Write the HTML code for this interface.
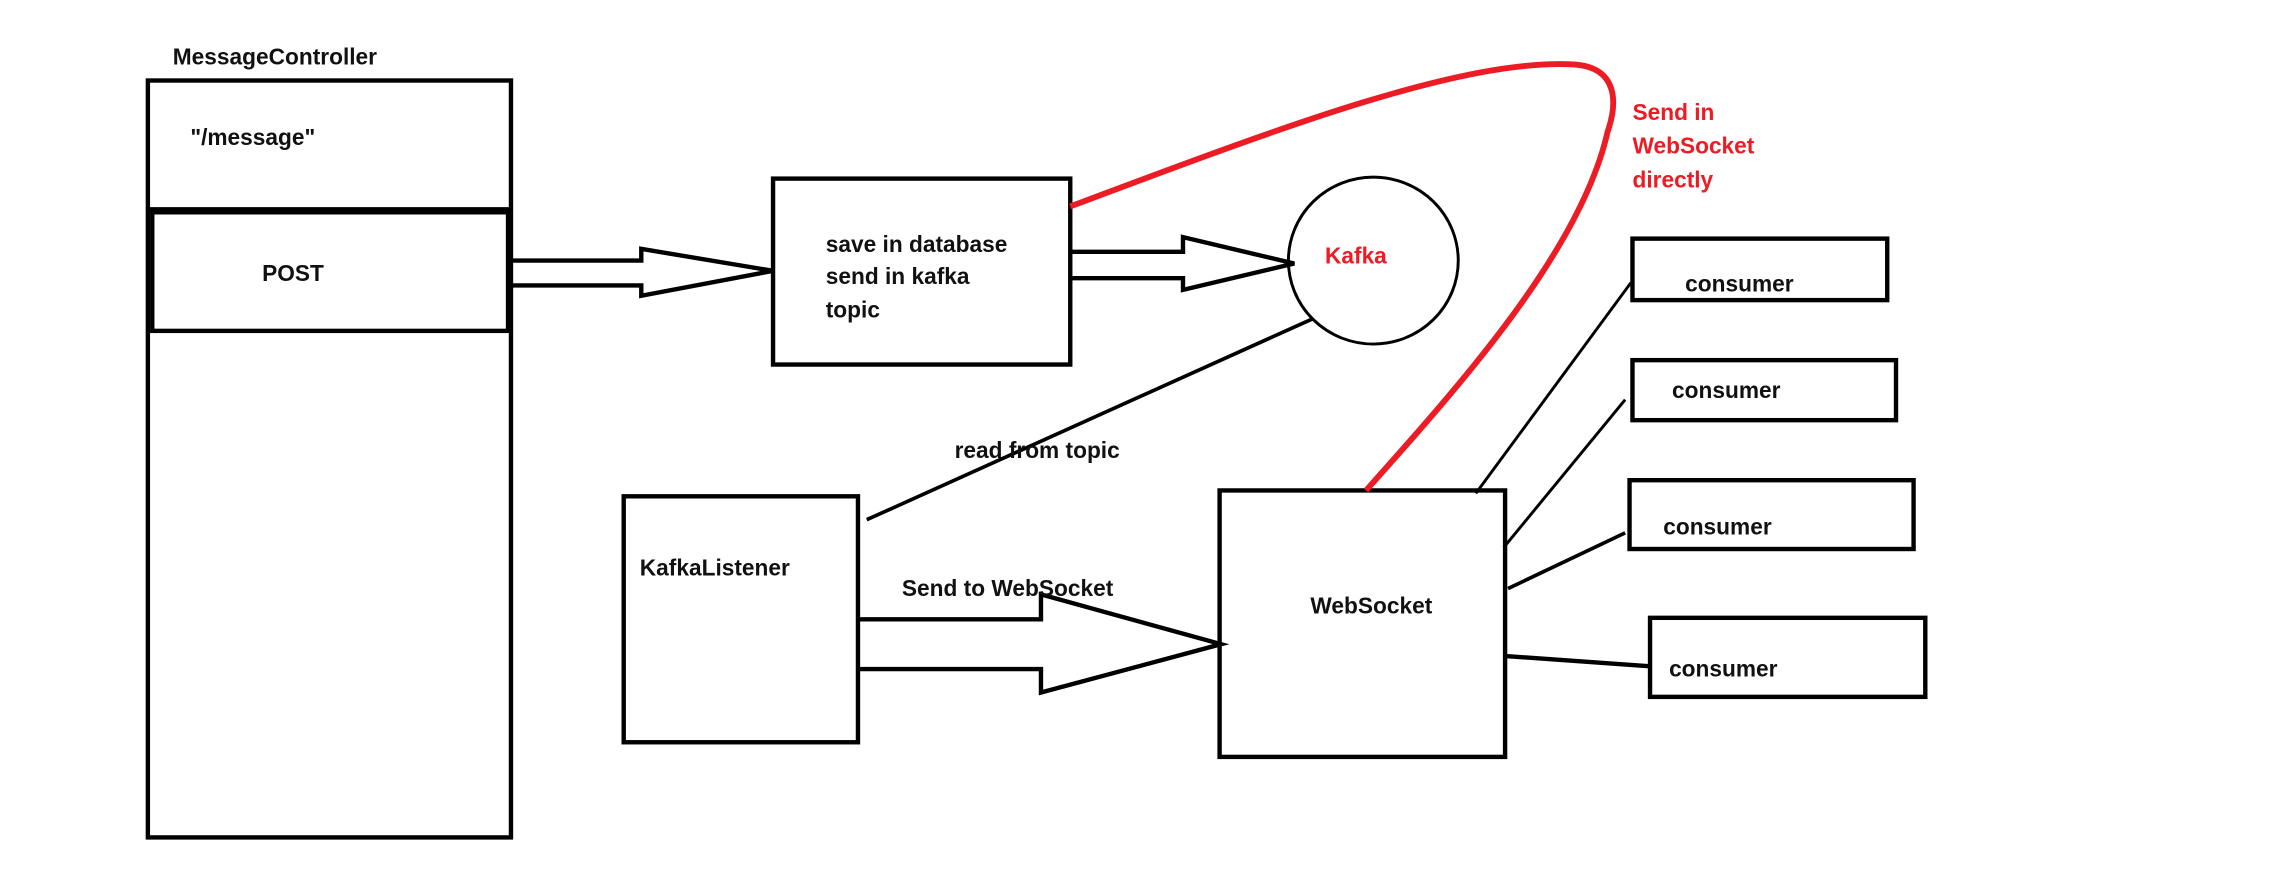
<!DOCTYPE html>
<html><head><meta charset="utf-8"><style>
html,body{margin:0;padding:0;background:#fff;}
svg{display:block;}
text{font-family:"Liberation Sans",sans-serif;font-weight:bold;font-size:15.5px;fill:#111;}
</style></head><body>
<svg width="2284" height="885" viewBox="0 0 1560 604.5" preserveAspectRatio="none" xmlns="http://www.w3.org/2000/svg">
<rect x="0" y="0" width="1560" height="604.5" fill="#fff"/>
<g fill="none" stroke="#000" stroke-width="3">
<rect x="101" y="55" width="248" height="517"/>
<line x1="101" y1="143" x2="349" y2="143"/>
<rect x="104" y="145" width="243" height="81"/>
<polyline points="347,178 438,178 438,170 528,185 438,202 438,195 347,195"/>
<rect x="528" y="122" width="203" height="127"/>
<polyline points="731,172 808,172 808,162 884,180 808,198 808,190 731,190"/>
<ellipse cx="938" cy="178" rx="58" ry="57" stroke-width="2"/>
<line x1="896" y1="218" x2="592" y2="355" stroke-width="2.5"/>
<rect x="426" y="339" width="160" height="168"/>
<polyline points="586,423 711,423 711,406 834,440 711,473 711,457 586,457"/>
<rect x="833" y="335" width="195" height="182"/>
<rect x="1115" y="163" width="174" height="42"/>
<rect x="1115" y="246" width="180" height="41"/>
<rect x="1113" y="328" width="194" height="47"/>
<rect x="1127" y="422" width="188" height="54"/>
<line x1="1008" y1="337" x2="1114" y2="193" stroke-width="2"/>
<line x1="1027" y1="374" x2="1110" y2="273" stroke-width="2"/>
<line x1="1030" y1="402" x2="1110" y2="364" stroke-width="2.5"/>
<line x1="1027" y1="448" x2="1126" y2="455" stroke-width="3"/>
</g>
<path d="M731,141 C880,85 1000,40 1075,44 C1105,46 1105,70 1098,90 C1080,170 1000,260 933,335" fill="none" stroke="#ed1c24" stroke-width="4"/>
<text x="118" y="44">MessageController</text>
<text x="130" y="99">"/message"</text>
<text x="179" y="192">POST</text>
<text x="564" y="172">save in database</text>
<text x="564" y="194">send in kafka</text>
<text x="564" y="217">topic</text>
<text x="905" y="180" style="fill:#ed1c24">Kafka</text>
<text x="1115" y="82" style="fill:#ed1c24">Send in</text>
<text x="1115" y="105" style="fill:#ed1c24">WebSocket</text>
<text x="1115" y="128" style="fill:#ed1c24">directly</text>
<text x="652" y="313">read from topic</text>
<text x="437" y="393">KafkaListener</text>
<text x="616" y="407">Send to WebSocket</text>
<text x="895" y="419">WebSocket</text>
<text x="1151" y="199">consumer</text>
<text x="1142" y="272">consumer</text>
<text x="1136" y="365">consumer</text>
<text x="1140" y="462">consumer</text>
</svg>
</body></html>
